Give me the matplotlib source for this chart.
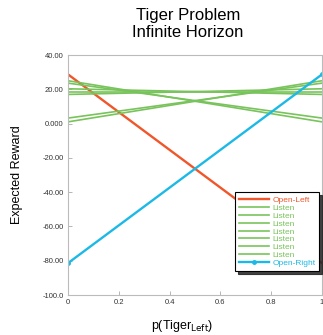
import matplotlib
matplotlib.use("Agg")
import matplotlib.pyplot as plt
from matplotlib.ticker import FixedLocator

plt.rcParams['font.family'] = ['Liberation Sans', 'DejaVu Sans']

belief = [0.0, 1.0]
open_left = [28.7, -81.4]
listen = [
    [25.0, 1.0],
    [23.6, 3.2],
    [20.3, 17.0],
    [18.7, 18.7],
    [17.0, 20.3],
    [3.2, 23.6],
    [1.0, 25.0],
]
open_right = [-81.4, 28.7]

yticks = [40, 20, 0, -20, -40, -60, -80, -100]
ytick_labels = ["40.00", "20.00", "0.000", "-20.00", "-40.00", "-60.00", "-80.00", "-100.0"]
xticks = [0, 0.2, 0.4, 0.6, 0.8, 1.0]
xtick_labels = ["0", "0.2", "0.4", "0.6", "0.8", "1"]

c_red = "#f0562a"
c_green = "#79c35c"
c_blue = "#1cb9e6"

fig = plt.figure(figsize=(3.23, 3.35), dpi=100)
ax = fig.add_axes([0.2105, 0.1194, 0.7865, 0.7164])

ax.plot(belief, open_left, color=c_red, lw=1.7, label="Open-Left")
for v in listen:
    ax.plot(belief, v, color=c_green, lw=1.2, label="Listen")
ax.plot(belief, open_right, color=c_blue, lw=1.7, marker='o', ms=2.5, label="Open-Right")

ax.set_xlim(0, 1)
ax.set_ylim(-100, 40)
ax.yaxis.set_major_locator(FixedLocator(yticks))
ax.set_yticklabels(ytick_labels)
ax.xaxis.set_major_locator(FixedLocator(xticks))
ax.set_xticklabels(xtick_labels)
ax.tick_params(direction='in', length=3, width=0.6, color='#aaaaaa', labelsize=5.5,
               labelcolor='#333333', pad=3)
for s in ax.spines.values():
    s.set_color('#bbbbbb')
    s.set_linewidth(0.8)

ax.set_ylabel("Expected Reward", fontsize=9, labelpad=14)
fig.text(0.565, 0.028, "p(Tiger$_{\\mathrm{Left}}$)", fontsize=9, ha='center', va='center')
fig.text(0.582, 0.953, "Tiger Problem", fontsize=12, ha='center', va='center')
fig.text(0.582, 0.902, "Infinite Horizon", fontsize=12, ha='center', va='center')

leg = ax.legend(loc='lower right', bbox_to_anchor=(0.99, 0.1), fontsize=6.0,
                frameon=True, fancybox=False, shadow={'color': '#222222', 'alpha': 0.85},
                handlelength=3.6, handletextpad=0.35, labelspacing=0.0, borderpad=0.5,
                borderaxespad=0)
leg.get_frame().set_edgecolor('black')
leg.get_frame().set_linewidth(0.8)
for txt, line in zip(leg.get_texts(), leg.get_lines()):
    txt.set_color(line.get_color())

fig.savefig("out.png", dpi=100)
